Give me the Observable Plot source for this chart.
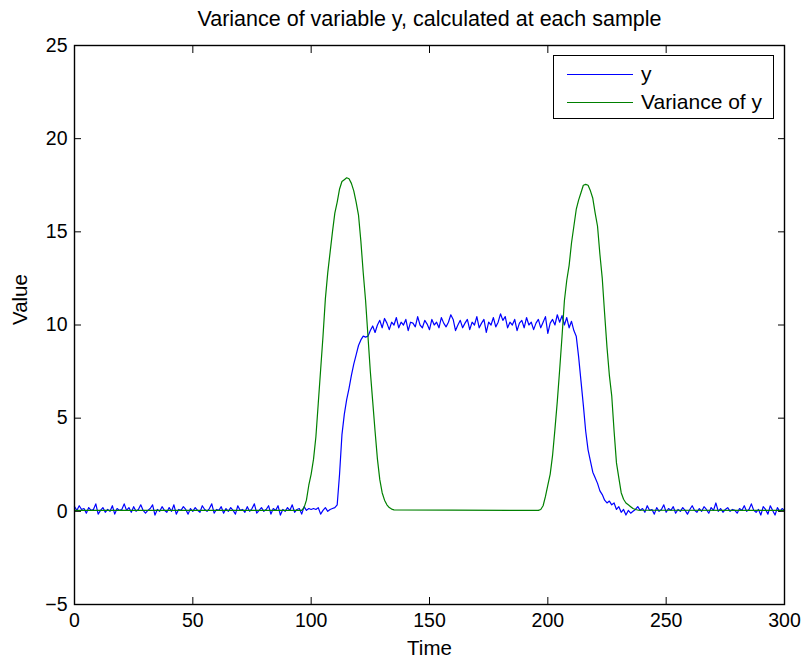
<!DOCTYPE html>
<html>
<head>
<meta charset="utf-8">
<script src="https://cdn.jsdelivr.net/npm/d3@7"></script>
<script src="https://cdn.jsdelivr.net/npm/@observablehq/plot@0.6"></script>
<style>
  html, body { margin: 0; padding: 0; background: #fff; }
  #wrap { position: relative; width: 808px; height: 662px; font-family: "Liberation Sans", Arial, sans-serif; }
  #legend { position: absolute; left: 553px; top: 55px; width: 221px; height: 64px; border: 1px solid #000; background: #fff; box-sizing: border-box; }
  .row { position: absolute; left: 0; display: flex; align-items: center; font-size: 21px; color: #000; }
  .sw { width: 66px; height: 1px; margin-left: 13px; margin-right: 8px; }
</style>
</head>
<body>
<div id="wrap"></div>
<script>
const title = "Variance of variable y, calculated at each sample";
const xLabel = "Time";
const yLabel = "Value";
const xTicks = [0, 50, 100, 150, 200, 250, 300];
const yTicks = [-5, 0, 5, 10, 15, 20, 25];
const seriesNames = ["y", "Variance of y"];
const seriesColors = ["#0000ff", "#008000"];

// y sampled at Time = 0,1,...,300
const yValues = [
  0.25, 0.05, 0.30, 0.10, 0.15, -0.10, 0.20, 0.05, 0.10, 0.40,
  -0.15, 0.05, 0.20, -0.05, 0.10, 0.00, 0.30, -0.15, 0.15, 0.05,
  0.10, 0.40, 0.05, 0.20, -0.05, 0.25, 0.00, 0.10, 0.35, 0.05,
  -0.10, 0.05, 0.15, 0.35, -0.20, 0.10, 0.00, 0.25, 0.05, -0.05,
  0.20, 0.00, 0.35, -0.15, 0.10, 0.05, 0.25, 0.10, -0.15, 0.15,
  0.00, 0.20, 0.05, -0.05, 0.30, 0.10, 0.00, 0.15, 0.40, -0.10,
  0.10, 0.05, 0.25, -0.10, 0.15, 0.00, 0.20, 0.05, -0.15, 0.30,
  0.05, 0.10, -0.05, 0.25, 0.00, 0.15, 0.40, -0.10, 0.05, 0.20,
  0.00, 0.10, 0.30, -0.15, 0.15, 0.05, 0.30, -0.20, 0.10, 0.00,
  0.20, 0.05, 0.35, -0.05, 0.10, 0.15, -0.15, 0.25, 0.05, 0.15,
  0.10, 0.15, 0.10, 0.20, -0.15, 0.05, 0.20, 0.00, 0.10, 0.15,
  0.20, 0.35, 2.0, 4.1, 5.2, 6.0, 6.6, 7.3, 7.9, 8.4,
  8.9, 9.2, 9.4, 9.35, 9.4, 9.7, 9.95, 9.6, 10.0, 10.25,
  9.85, 10.35, 10.1, 9.75, 10.15, 10.0, 10.4, 9.85, 10.15, 10.0,
  10.3, 9.7, 10.15, 10.1, 9.9, 10.45, 10.0, 9.85, 10.25, 10.05,
  9.75, 10.3, 10.0, 10.15, 9.85, 10.4, 10.1, 9.9, 10.15, 10.55,
  10.3, 9.7, 10.0, 10.25, 9.85, 10.1, 10.3, 9.75, 10.15, 10.0,
  10.45, 9.85, 10.1, 10.3, 9.6, 10.15, 10.0, 10.4, 9.9, 10.15,
  10.6, 10.25, 10.45, 9.85, 10.15, 10.0, 10.3, 9.7, 10.1, 10.25,
  9.85, 10.4, 10.0, 10.15, 9.75, 10.1, 10.3, 9.85, 10.15, 10.45,
  9.55, 10.1, 10.3, 10.0, 10.55, 10.15, 10.5, 10.0, 10.4, 9.85,
  10.2, 9.7, 9.4, 8.3, 7.0, 5.7, 4.3, 3.3, 2.7, 2.1,
  1.8, 1.5, 1.1, 0.9, 0.6, 0.45, 0.55, 0.35, 0.45, 0.10,
  0.25, -0.05, 0.10, -0.20, 0.05, -0.10, 0.00, 0.10, 0.25, 0.05,
  0.15, -0.05, 0.30, 0.05, 0.10, -0.15, 0.20, 0.00, 0.10, 0.35,
  -0.05, 0.15, 0.05, 0.25, -0.10, 0.10, 0.00, 0.20, 0.05, -0.15,
  0.10, 0.30, 0.05, -0.05, 0.15, 0.00, 0.25, 0.10, -0.10, 0.20,
  0.05, 0.45, 0.00, 0.15, -0.05, 0.10, 0.20, 0.00, 0.10, 0.05,
  -0.10, 0.15, 0.05, 0.30, 0.00, 0.10, 0.40, 0.05, -0.05, 0.10,
  -0.20, 0.25, 0.10, -0.15, 0.30, 0.05, -0.20, 0.20, 0.00, 0.15,
  0.05
];

// Variance of y: times and values
const varTime = [
  0, 96,
  97, 98, 99, 100, 101, 102, 103, 104, 105, 106,
  107, 108, 109, 110, 111, 112, 113, 114, 115, 116,
  117, 118, 119, 120, 121, 122, 123, 124, 125, 126,
  127, 128, 129, 130, 131, 132, 133, 134, 135,
  196,
  197, 198, 199, 200, 201, 202, 203, 204, 205, 206,
  207, 208, 209, 210, 211, 212, 213, 214, 215, 216,
  217, 218, 219, 220, 221, 222, 223, 224, 225, 226,
  227, 228, 229, 230, 231, 232, 233, 234, 235, 236,
  237, 238,
  300
];
const varValues = [
  0.05, 0.05,
  0.2, 0.6, 1.4, 2.0, 2.8, 4.0, 5.8, 7.6, 9.4, 11.4,
  12.8, 13.9, 15.0, 16.0, 16.6, 17.3, 17.7, 17.8, 17.9, 17.85,
  17.6, 17.2, 16.6, 15.9, 14.5, 12.8, 11.3, 9.4, 7.5, 5.9,
  4.3, 2.8, 1.7, 1.0, 0.6, 0.35, 0.2, 0.12, 0.08,
  0.05,
  0.1, 0.3, 0.8, 1.4, 2.0, 3.0, 4.4, 5.9, 7.6, 9.4,
  11.3, 12.4, 13.2, 14.4, 15.3, 16.2, 16.7, 17.1, 17.5, 17.55,
  17.5, 17.2, 16.8, 16.0, 15.3, 13.8, 12.5, 10.6, 8.8, 7.3,
  6.2, 4.3, 2.6, 1.8, 1.0, 0.65, 0.45, 0.35, 0.25, 0.15,
  0.1, 0.07,
  0.05
];

const yData = yValues.map((v, i) => ({t: i, v}));
const varData = varTime.map((t, i) => ({t, v: varValues[i]}));

const chart = Plot.plot({
  width: 808,
  height: 662,
  marginLeft: 74,
  marginRight: 24,
  marginTop: 45,
  marginBottom: 58,
  style: {background: "#fff", color: "#000", fontFamily: "Liberation Sans, Arial, sans-serif", fontSize: "19.5px"},
  x: {domain: [0, 300]},
  y: {domain: [-5, 25]},
  marks: [
    Plot.line(yData, {x: "t", y: "v", stroke: seriesColors[0], strokeWidth: 1.2}),
    Plot.line(varData, {x: "t", y: "v", stroke: seriesColors[1], strokeWidth: 1.2}),
    Plot.frame({stroke: "#000", strokeWidth: 1.4}),
    Plot.axisX({ticks: xTicks, tickSize: -7, tickPadding: 16, label: null, tickFormat: d => d, fontSize: 19.5}),
    Plot.axisX({anchor: "top", ticks: xTicks, tickSize: -7, label: null, tickFormat: () => ""}),
    Plot.axisY({ticks: yTicks, tickSize: -7, tickPadding: 14, label: null, fontSize: 19.5}),
    Plot.axisY({anchor: "right", ticks: yTicks, tickSize: -7, label: null, tickFormat: () => ""}),
    Plot.text([title], {frameAnchor: "top", dy: -26, lineAnchor: "middle", fontSize: 21.5}),
    Plot.text([xLabel], {frameAnchor: "bottom", dy: 44, lineAnchor: "middle", fontSize: 20.5}),
    Plot.text([yLabel], {frameAnchor: "left", dx: -54, rotate: -90, lineAnchor: "middle", fontSize: 20.5})
  ]
});

const wrap = document.getElementById("wrap");
wrap.appendChild(chart);

const legend = document.createElement("div");
legend.id = "legend";
seriesNames.forEach((name, i) => {
  const row = document.createElement("div");
  row.className = "row";
  row.style.top = (i === 0 ? 5 : 33) + "px";
  row.style.height = "26px";
  const sw = document.createElement("span");
  sw.className = "sw";
  sw.style.background = seriesColors[i];
  const lab = document.createElement("span");
  lab.textContent = name;
  row.appendChild(sw);
  row.appendChild(lab);
  legend.appendChild(row);
});
wrap.appendChild(legend);
</script>
</body>
</html>
